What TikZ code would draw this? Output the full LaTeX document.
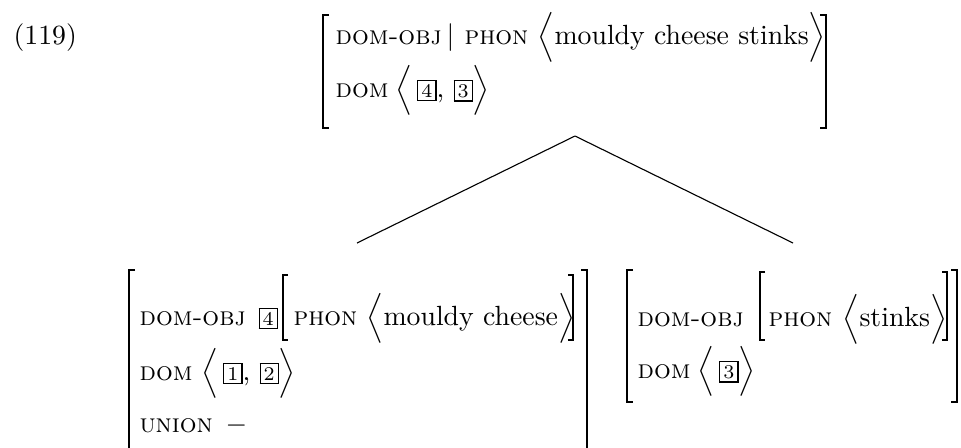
\documentclass[tikz,border=0pt]{standalone}
\newcommand{\tagbox}[1]{{\fboxsep=1.1pt\fbox{\scriptsize#1}}}
\newcommand{\lang}{$\Bigl\langle$}
\newcommand{\rang}{$\Bigr\rangle$}
\tikzset{avm/.style={anchor=base west, inner sep=0pt},
  feat/.style={avm, font=\fontsize{9.5}{11.4}\selectfont\scshape},
  brk/.style={line width=0.6pt}}
\begin{document}
\begin{tikzpicture}[x=0.36pt, y=-0.36pt]
  \useasboundingbox (0,0) rectangle (961,447);
  \node[avm] (num) at (13,44) {(119)};
  % mother
  \node[feat] (tobj) at (335,44) {dom-obj};
  \node[avm] (tbar) at (446,44) {$|$};
  \node[feat] (tphon) at (464,44) {phon};
  \node[avm] (tval) at (537,44) {\lang mouldy cheese stinks\rang};
  \node[feat] (tdom) at (335,97) {dom};
  \node[avm] (tdval) at (395,97) {\lang\,\tagbox{4}, \tagbox{3}\rang};
  \draw[brk] (329,15) -- (323,15) -- (323,128) -- (329,128);
  \draw[brk] (820,15) -- (826,15) -- (826,128) -- (820,128);
  % left daughter
  \node[feat] (lobj) at (139,325) {dom-obj};
  \node[avm] (ltag) at (258,325) {\tagbox{4}};
  \node[feat] (lphon) at (293,325) {phon};
  \node[avm] (lval) at (366,325) {\lang mouldy cheese\rang};
  \node[feat] (ldom) at (139,380) {dom};
  \node[avm] (ldval) at (201,380) {\lang\,\tagbox{1}, \tagbox{2}\rang};
  \node[feat] (lunion) at (139,432) {union};
  \node[avm] (ldash) at (225,432) {$-$};
  \draw[brk] (135,270) -- (129,270) -- (129,452);
  \draw[brk] (581,270) -- (587,270) -- (587,452);
  \draw[brk] (288,275) -- (283,275) -- (283,340) -- (288,340);
  \draw[brk] (568,275) -- (573,275) -- (573,340) -- (568,340);
  % right daughter
  \node[feat] (robj) at (637,326) {dom-obj};
  \node[feat] (rphon) at (768,326) {phon};
  \node[avm] (rval) at (842,326) {\lang stinks\rang};
  \node[feat] (rdom) at (637,378) {dom};
  \node[avm] (rdval) at (697,378) {\lang\,\tagbox{3}\rang};
  \draw[brk] (633,270) -- (627,270) -- (627,402) -- (633,402);
  \draw[brk] (951,270) -- (957,270) -- (957,402) -- (951,402);
  \draw[brk] (765,272) -- (760,272) -- (760,340) -- (765,340);
  \draw[brk] (942,272) -- (947,272) -- (947,340) -- (942,340);
  % branches
  \coordinate (top) at (575,136);
  \coordinate (left) at (357,243);
  \coordinate (right) at (793,243);
  \draw (top) -- (left);
  \draw (top) -- (right);
\end{tikzpicture}
\end{document}
